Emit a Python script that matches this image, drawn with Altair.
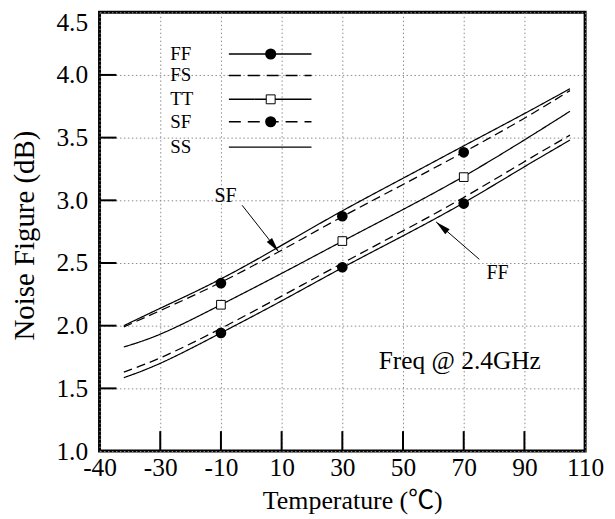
import altair as alt
import pandas as pd

# ---------------- data ----------------
temps = [-36, -30, -10, 10, 30, 50, 70, 90, 105]
ss_vals = [2.00, 2.14, 2.365, 2.64, 2.92, 3.175, 3.435, 3.69, 3.89]
sf_vals = [1.99, 2.12, 2.339, 2.60, 2.873, 3.125, 3.383, 3.65, 3.875]
tt_vals = [1.83, 1.92, 2.167, 2.415, 2.675, 2.925, 3.185, 3.48, 3.71]
fs_vals = [1.63, 1.735, 1.975, 2.235, 2.50, 2.755, 3.018, 3.31, 3.52]
ff_vals = [1.585, 1.69, 1.942, 2.195, 2.466, 2.715, 2.974, 3.27, 3.48]
marker_temps = [-10, 30, 70]
series_names = ["FF", "FS", "TT", "SF", "SS"]
x_ticks = [-40, -30, -10, 10, 30, 50, 70, 90, 110]
y_ticks = [1.0, 1.5, 2.0, 2.5, 3.0, 3.5, 4.0, 4.5]

# ---------------- layout / style ----------------
W, H = 488, 441
FONT = "Liberation Serif"
TITLE_FONT = "Liberation Serif, Noto Sans CJK SC"
SOLID = [1, 0]
DASH = [9, 5]
dash_of = {"FF": SOLID, "FS": DASH, "TT": SOLID, "SF": DASH, "SS": SOLID}

series_vals = {"FF": ff_vals, "FS": fs_vals, "TT": tt_vals, "SF": sf_vals, "SS": ss_vals}
rows = []
for name in series_names:
    for t, v in zip(temps, series_vals[name]):
        rows.append({"series": name, "temp": t, "value": v})
lines_df = pd.DataFrame(rows)
marks_df = lines_df[lines_df["temp"].isin(marker_temps)]
circ_df = marks_df[marks_df["series"].isin(["FF", "SF"])]
sq_df = marks_df[marks_df["series"] == "TT"]

xs = alt.Scale(domain=[-40, -30, 110], range=[0, W / 8, W], nice=False, zero=False)
ys = alt.Scale(domain=[1.0, 4.5], nice=False, zero=False)

grid_kw = dict(grid=True, gridDash=[1.5, 2.5], gridColor="#8c8c8c", gridWidth=1,
               ticks=False, domain=False, labelFont=FONT, labelColor="black",
               labelFontSize=25.5, titleFont=TITLE_FONT,
               titleFontWeight="normal", titleColor="black", labelFlush=False,
               labelOverlap=False)

x_axis = alt.Axis(values=x_ticks, labelExpr="datum.value + ''", title="Temperature (℃)",
                  labelPadding=5, titleFontSize=26, titleX=254, titleY=58,
                  titleAlign="center", titleBaseline="alphabetic", **grid_kw)
y_axis = alt.Axis(values=y_ticks, format=".1f", title="Noise Figure (dB)",
                  labelPadding=12, titleFontSize=29, titleX=-75, titleY=224, titleAngle=270,
                  titleAlign="center", titleBaseline="middle",
                  labelOffset={"condition": {"test": "datum.value >= 4.5", "value": 10}, "value": 0},
                  **grid_kw)

X = alt.X("temp:Q", scale=xs, axis=x_axis)
Y = alt.Y("value:Q", scale=ys, axis=y_axis)

lines = alt.Chart(lines_df).mark_line(color="black", strokeWidth=1.25, interpolate="basis").encode(
    x=X, y=Y,
    detail="series:N",
    strokeDash=alt.StrokeDash("series:N", scale=alt.Scale(domain=series_names,
                              range=[dash_of[s] for s in series_names]), legend=None),
)

circles = alt.Chart(circ_df).mark_point(shape="circle", filled=True, color="black",
                                        size=115, opacity=1).encode(x=X, y=Y)
squares = alt.Chart(sq_df).mark_point(shape="square", filled=True, fill="white", stroke="black",
                                      strokeWidth=1, size=76, opacity=1).encode(x=X, y=Y)

# inward tick marks
xt_df = pd.DataFrame({"temp": x_ticks[1:-1]})
yt_df = pd.DataFrame({"value": y_ticks[1:-1]})
x_inner = alt.Chart(xt_df).mark_rule(color="black", strokeWidth=2).encode(
    x=X, y=alt.value(H - 20), y2=alt.value(H))
y_inner = alt.Chart(yt_df).mark_rule(color="black", strokeWidth=2).encode(
    y=Y, x=alt.value(0), x2=alt.value(17))

one = pd.DataFrame({"a": [0]})
layers = [lines, circles, squares, x_inner, y_inner]

# custom legend
leg_y = [42, 63.5, 87.5, 110, 135.5]
leg_dash = {"FF": SOLID, "FS": [12, 7], "TT": SOLID, "SF": [12, 7], "SS": SOLID}
for name, yy in zip(series_names, leg_y):
    layers.append(alt.Chart(one).mark_text(font=FONT, fontSize=19, align="left", baseline="middle",
                                           color="black").encode(
        x=alt.value(71), y=alt.value(yy), text=alt.value(name)))
    layers.append(alt.Chart(one).mark_rule(color="black", strokeWidth=1.4,
                                           strokeDash=leg_dash[name]).encode(
        x=alt.value(130), x2=alt.value(213), y=alt.value(yy)))
    if name in ("FF", "SF"):
        layers.append(alt.Chart(one).mark_point(shape="circle", filled=True, color="black",
                                                size=125, opacity=1).encode(
            x=alt.value(172), y=alt.value(yy)))
    if name == "TT":
        layers.append(alt.Chart(one).mark_point(shape="square", filled=True, fill="white",
                                                stroke="black", strokeWidth=1, size=80,
                                                opacity=1).encode(
            x=alt.value(172), y=alt.value(yy)))

# annotations with arrows
ARROW = "M0,0 L-0.45,2 L0.45,2 Z"
annos = [("SF", 126.7, 185, 143.3, 194, 180, 240.7, 141.8),
         ("FF", 400, 262.3, 381.7, 248.3, 338.3, 210.7, 310.9)]
for label, tx, ty, x0, y0, x1, y1, ang in annos:
    layers.append(alt.Chart(one).mark_text(font=FONT, fontSize=20, color="black",
                                           align="center", baseline="middle").encode(
        x=alt.value(tx), y=alt.value(ty), text=alt.value(label)))
    layers.append(alt.Chart(one).mark_rule(color="black", strokeWidth=1).encode(
        x=alt.value(x0), y=alt.value(y0), x2=alt.value(x1), y2=alt.value(y1)))
    layers.append(alt.Chart(one).mark_point(shape=ARROW, filled=True, color="black", size=225,
                                            opacity=1, angle=ang).encode(
        x=alt.value(x1), y=alt.value(y1)))

layers.append(alt.Chart(one).mark_text(font=FONT, fontSize=25.5, color="black", align="center",
                                       baseline="middle").encode(
    x=alt.value(362), y=alt.value(351), text=alt.value("Freq @ 2.4GHz")))

chart = alt.layer(*layers).properties(
    width=W, height=H,
    background="white",
    autosize=alt.AutoSizeParams(type="none"),
    padding={"left": 92, "top": 3, "right": 22, "bottom": 66},
).configure_view(stroke="black", strokeWidth=3)

chart.save("out.html", embed_options={"renderer": "svg", "actions": False})
